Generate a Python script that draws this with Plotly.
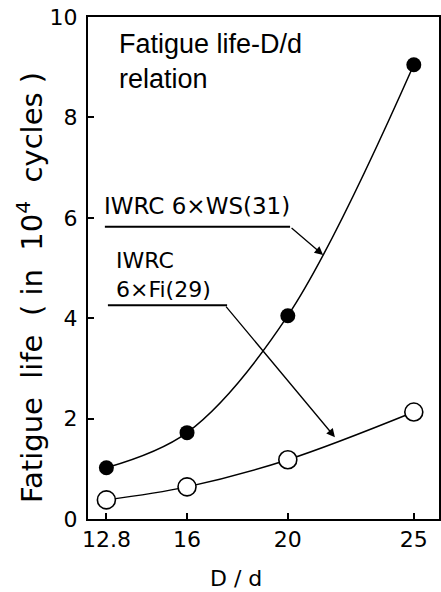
import plotly.graph_objects as go

# Data
dd = [12.8, 16, 20, 25]
ws_life = [1.02, 1.72, 4.05, 9.05]      # IWRC 6xWS(31), filled circles
fi_life = [0.38, 0.64, 1.18, 2.13]      # IWRC 6xFi(29), open circles
x_ticks = [12.8, 16, 20, 25]
x_tick_labels = ["12.8", "16", "20", "25"]
y_ticks = [0, 2, 4, 6, 8, 10]
y_tick_labels = ["0", "2", "4", "6", "8", "10"]

LABEL_FONT = "DejaVu Sans"
W, H = 441, 592
ML, MR, MT, MB = 88, 2, 17, 73
PW, PH = W - ML - MR, H - MT - MB


def px_to_paper(px, py):
    return (px - ML) / PW, (H - MB - py) / PH


fig = go.Figure()
fig.add_trace(go.Scatter(
    x=dd, y=fi_life, mode="lines+markers",
    line=dict(color="black", width=1.5, shape="spline", smoothing=1),
    marker=dict(size=18, color="white", line=dict(color="black", width=1.6)),
    showlegend=False, cliponaxis=False))
fig.add_trace(go.Scatter(
    x=dd, y=ws_life, mode="lines+markers",
    line=dict(color="black", width=1.5, shape="spline", smoothing=1),
    marker=dict(size=15, color="black"),
    showlegend=False, cliponaxis=False))

xt_x, xt_y = px_to_paper(236, 578)
yt_x, yt_y = px_to_paper(30, 288)

annotations = [
    dict(x=13.22, y=9.12, xref="x", yref="y", xanchor="left", yanchor="middle",
         text="Fatigue life-D/d<br>relation", showarrow=False, align="left",
         font=dict(family="Liberation Sans", size=27, color="black")),
    dict(x=12.62, y=6.24, xref="x", yref="y", xanchor="left", yanchor="middle",
         text="IWRC 6×WS(31)", showarrow=False,
         font=dict(family=LABEL_FONT, size=23, color="black")),
    dict(x=13.12, y=4.87, xref="x", yref="y", xanchor="left", yanchor="middle",
         text="IWRC<br>6×Fi(29)", showarrow=False, align="left",
         font=dict(family=LABEL_FONT, size=22, color="black")),
    # arrows
    dict(x=21.40, y=5.26, ax=20.09, ay=5.82, xref="x", yref="y", axref="x", ayref="y",
         text="", showarrow=True, arrowhead=2, arrowsize=1.3, arrowwidth=1.3,
         arrowcolor="black", standoff=0),
    dict(x=21.87, y=1.63, ax=17.50, ay=4.26, xref="x", yref="y", axref="x", ayref="y",
         text="", showarrow=True, arrowhead=2, arrowsize=1.3, arrowwidth=1.3,
         arrowcolor="black", standoff=0),
    # axis titles
    dict(x=xt_x, y=xt_y, xref="paper", yref="paper", xanchor="center", yanchor="middle",
         text="D / d", showarrow=False,
         font=dict(family=LABEL_FONT, size=22, color="black")),
    dict(x=yt_x, y=yt_y, xref="paper", yref="paper", xanchor="center", yanchor="middle",
         text="Fatigue  life  ( in  10<sup>4</sup>  cycles )", textangle=-90, showarrow=False,
         font=dict(family=LABEL_FONT, size=29, color="black")),
]

shapes = [
    dict(type="line", xref="x", yref="y", x0=12.74, x1=20.09, y0=5.82, y1=5.82,
         line=dict(color="black", width=2)),
    dict(type="line", xref="x", yref="y", x0=12.86, x1=17.59, y0=4.26, y1=4.26,
         line=dict(color="black", width=2)),
]

fig.update_layout(
    width=W, height=H,
    margin=dict(l=ML, r=MR, t=MT, b=MB, autoexpand=False),
    paper_bgcolor="white", plot_bgcolor="white",
    annotations=annotations, shapes=shapes,
    xaxis=dict(range=[12.07, 26.0], tickvals=x_ticks, ticktext=x_tick_labels,
               showline=True, linecolor="black", linewidth=2, mirror=True,
               ticks="inside", ticklen=6, tickwidth=1.5, tickcolor="black",
               showgrid=False, zeroline=False, automargin=False,
               tickfont=dict(family=LABEL_FONT, size=22, color="black")),
    yaxis=dict(range=[0, 10], tickvals=y_ticks, ticktext=y_tick_labels,
               showline=True, linecolor="black", linewidth=2, mirror=True,
               ticks="inside", ticklen=6, tickwidth=1.5, tickcolor="black",
               showgrid=False, zeroline=False, automargin=False, ticklabelstandoff=4,
               tickfont=dict(family=LABEL_FONT, size=22, color="black")),
)

fig.write_html(
    "out.html",
    config={"displayModeBar": False},
    post_script="document.body.style.margin='0';document.body.style.padding='0';"
                "document.body.style.overflow='hidden';",
)
